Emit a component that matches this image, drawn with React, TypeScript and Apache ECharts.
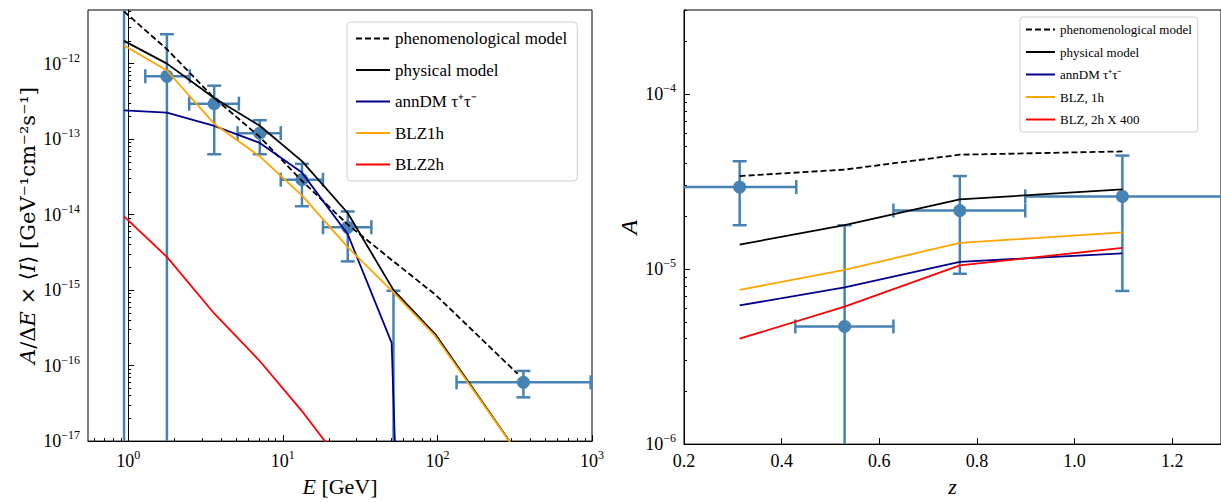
import { useEffect, useRef } from 'react'
import * as echarts from 'echarts'

// left panel: energy spectrum
const energy = [0.94, 1.78, 3.6, 7.1, 13.3, 26.3, 52, 97, 330]
const phenoE = [4.9e-12, 1.55e-12, 3.5e-13, 1.07e-13, 2.8e-14, 7.4e-15, 2.4e-15, 8.7e-16, 7.8e-17]
const physE = [2.0e-12, 1.0e-12, 3.5e-13, 1.5e-13, 5.1e-14, 1.05e-14, 1.0e-15, 2.6e-16, 7e-18]
const blz1E = [1.74e-12, 8.1e-13, 1.6e-13, 5.9e-14, 1.8e-14, 3.7e-15, 9.3e-16, 2.45e-16, 7e-18]
const annEnergy = [0.94, 1.78, 3.6, 7.1, 13.3, 26.3, 50.6, 55]
const annE = [2.4e-13, 2.24e-13, 1.5e-13, 8.9e-14, 3.6e-14, 5.5e-15, 2.0e-16, 1e-18]
const blz2Energy = [0.94, 1.78, 3.6, 7.1, 13.3, 26.3]
const blz2E = [9.5e-15, 2.75e-15, 4.9e-16, 1.15e-16, 2.5e-17, 4e-18]

const ptE = [0.94, 1.78, 3.6, 7.1, 13.3, 26.3, 52, 360]
const ptELow = [0.94, 1.29, 2.48, 5.1, 9.7, 18.2, 52, 133]
const ptEHigh = [0.94, 2.5, 5.2, 9.7, 18.2, 37.4, 52, 980]
const ptFlux = [1e-19, 6.8e-13, 2.95e-13, 1.2e-13, 2.9e-14, 6.8e-15, 1e-19, 6.0e-17]
const ptFluxLow = [1e-19, 1e-19, 6.3e-14, 6.3e-14, 1.29e-14, 2.4e-15, 1e-19, 3.8e-17]
const ptFluxHigh = [1e-11, 2.45e-12, 5.1e-13, 1.78e-13, 4.7e-14, 1.1e-14, 9.8e-16, 8.5e-17]

// right panel: anisotropy vs redshift
const redshift = [0.314, 0.529, 0.765, 1.098]
const phenoZ = [3.4e-5, 3.7e-5, 4.5e-5, 4.7e-5]
const physZ = [1.38e-5, 1.78e-5, 2.5e-5, 2.85e-5]
const annZ = [6.2e-6, 7.85e-6, 1.1e-5, 1.23e-5]
const blz1Z = [7.6e-6, 9.9e-6, 1.41e-5, 1.62e-5]
const blz2Z = [4.0e-6, 6.1e-6, 1.05e-5, 1.32e-5]

const ptZLow = [0.17, 0.428, 0.629, 0.899]
const ptZHigh = [0.43, 0.629, 0.899, 1.45]
const ptA = [2.94e-5, 4.7e-6, 2.16e-5, 2.6e-5]
const ptALow = [1.78e-5, 8e-7, 9.4e-6, 7.5e-6]
const ptAHigh = [4.13e-5, 1.78e-5, 3.4e-5, 4.45e-5]

const leftXTicks = [0, 1, 2, 3]
const leftYTicks = [-17, -16, -15, -14, -13, -12]
const rightXTicks = [0.2, 0.4, 0.6, 0.8, 1.0, 1.2]
const rightYTicks = [-6, -5, -4]

const lg = Math.log10
const FONT = 'Liberation Serif'
const BLUE = '#4682b4'

function minorLogs(from: number, to: number) {
  const out: number[] = []
  for (let n = from; n <= to; n++) for (let k = 2; k <= 9; k++) out.push(lg(k) + n)
  return out
}

const pow = (v: number) => `{b|10}{s|${v < 0 ? '−' + Math.abs(v) : v}}`
const rich = {
  b: { fontSize: 18, fontFamily: FONT, color: '#000' },
  s: { fontSize: 12, fontFamily: FONT, color: '#000', verticalAlign: 'bottom', padding: [0, 0, 12, 0] }
}

function pairs(xs: number[], ys: number[], fx: (v: number) => number) {
  return xs.map((x, i) => [fx(x), lg(ys[i])])
}

function errRows(x: number[], xl: number[], xh: number[], y: number[], yl: number[], yh: number[], fx: (v: number) => number) {
  return x.map((v, i) => [fx(v), lg(y[i]), fx(xl[i]), fx(xh[i]), lg(yl[i]), lg(yh[i])])
}

function renderErr(params: any, api: any) {
  const x = api.value(0), y = api.value(1)
  const xl = api.value(2), xh = api.value(3), yl = api.value(4), yh = api.value(5)
  const c = api.coord([x, y])
  const pl = api.coord([xl, y]), ph = api.coord([xh, y])
  const ql = api.coord([x, yl]), qh = api.coord([x, yh])
  const st = { stroke: BLUE, lineWidth: 2.5 }
  const cap = 7
  const kids: any[] = [
    { type: 'line', shape: { x1: ql[0], y1: ql[1], x2: qh[0], y2: qh[1] }, style: st },
    { type: 'line', shape: { x1: ql[0] - cap, y1: ql[1], x2: ql[0] + cap, y2: ql[1] }, style: st },
    { type: 'line', shape: { x1: qh[0] - cap, y1: qh[1], x2: qh[0] + cap, y2: qh[1] }, style: st }
  ]
  if (xh > xl) {
    kids.push(
      { type: 'line', shape: { x1: pl[0], y1: pl[1], x2: ph[0], y2: ph[1] }, style: st },
      { type: 'line', shape: { x1: pl[0], y1: pl[1] - cap, x2: pl[0], y2: pl[1] + cap }, style: st },
      { type: 'line', shape: { x1: ph[0], y1: ph[1] - cap, x2: ph[0], y2: ph[1] + cap }, style: st }
    )
  }
  kids.push({ type: 'circle', shape: { cx: c[0], cy: c[1], r: 6.5 }, style: { fill: BLUE } })
  return { type: 'group', children: kids }
}

function majorAxis(grid: number, pos: string, min: number, max: number, ticks: number[], fmt: (v: number) => string, extra: any = {}) {
  return {
    type: 'value', gridIndex: grid, position: pos, min, max,
    axisLine: { show: true, lineStyle: { color: '#000', width: 1 } },
    axisTick: { show: true, inside: true, length: 6, customValues: ticks, lineStyle: { color: '#000' } },
    axisLabel: { customValues: ticks, formatter: fmt, rich, color: '#000', fontFamily: FONT, fontSize: 18, margin: 8 },
    splitLine: { show: false },
    ...extra
  }
}

function minorAxis(grid: number, pos: string, min: number, max: number, ticks: number[]) {
  return {
    type: 'value', gridIndex: grid, position: pos, min, max,
    axisLine: { show: false },
    axisTick: { show: true, inside: true, length: 3, customValues: ticks, lineStyle: { color: '#000' } },
    axisLabel: { show: false },
    splitLine: { show: false }
  }
}

function nameStyle(size: number, family = FONT) {
  return {
    fontFamily: family, fontSize: size, color: '#000',
    rich: { i: { fontStyle: 'italic', fontFamily: family, fontSize: size, color: '#000' } }
  }
}

function line(name: string, data: number[][], color: string, xi: number, dashed = false) {
  return {
    name, type: 'line', data, xAxisIndex: xi, yAxisIndex: xi, showSymbol: false, symbol: 'none',
    lineStyle: { color, width: 1.8, type: dashed ? [6, 3] : 'solid' }, itemStyle: { color }
  }
}

export default function App() {
  const ref = useRef<HTMLDivElement>(null)
  useEffect(() => {
    if (!ref.current) return
    const chart = echarts.init(ref.current, null, { renderer: 'svg' })
    const id = (v: number) => v
    chart.setOption({
      animation: false,
      backgroundColor: '#fff',
      grid: [
        { left: 88, top: 10, width: 504, height: 444, show: true, borderColor: '#000', borderWidth: 1 },
        { left: 684, top: 10, width: 548, height: 444, show: true, borderColor: '#000', borderWidth: 1 }
      ],
      xAxis: [
        majorAxis(0, 'bottom', -0.26, 3, leftXTicks, pow, { name: '{i|E} [GeV]', nameLocation: 'middle', nameGap: 33, nameTextStyle: nameStyle(22) }),
        minorAxis(0, 'bottom', -0.26, 3, minorLogs(-1, 2).filter((v) => v > -0.26 && v < 3)),
        majorAxis(1, 'bottom', 0.2, 1.3, rightXTicks, (v: number) => v.toFixed(1), { name: '{i|z}', nameLocation: 'middle', nameGap: 30, nameTextStyle: nameStyle(22) })
      ],
      yAxis: [
        majorAxis(0, 'left', -17, -11.29, leftYTicks, pow, { name: '{i|A}/Δ{i|E} × ⟨{i|I}⟩ [GeV⁻¹cm⁻²s⁻¹]', nameLocation: 'middle', nameGap: 50, nameTextStyle: nameStyle(21, 'DejaVu Serif') }),
        minorAxis(0, 'left', -17, -11.29, minorLogs(-17, -12).filter((v) => v < -11.29)),
        majorAxis(1, 'left', -6, -3.52, rightYTicks, pow, { name: '{i|A}', nameLocation: 'middle', nameGap: 40, nameTextStyle: nameStyle(24) }),
        minorAxis(1, 'left', -6, -3.52, minorLogs(-6, -4).filter((v) => v < -3.52))
      ],
      legend: [
        {
          left: 347, top: 22, orient: 'vertical', itemWidth: 34, itemHeight: 14, itemGap: 14.5,
          padding: [8, 10, 8, 8], borderColor: '#d0d0d0', borderWidth: 1, borderRadius: 4,
          itemStyle: { opacity: 0 },
          textStyle: { fontFamily: FONT, fontSize: 17, color: '#000' },
          data: ['phenomenological model', 'physical model', 'annDM τ⁺τ⁻', 'BLZ1h', 'BLZ2h']
        },
        {
          left: 1020, top: 17, orient: 'vertical', itemWidth: 29, itemHeight: 10, itemGap: 9.5,
          padding: [6, 6, 6, 5], borderColor: '#d0d0d0', borderWidth: 1, borderRadius: 3,
          itemStyle: { opacity: 0 },
          textStyle: { fontFamily: FONT, fontSize: 13, color: '#000' },
          data: ['phenomenological model', 'physical model', 'annDM τ⁺τ⁻', 'BLZ, 1h', 'BLZ, 2h X 400']
        }
      ],
      series: [
        {
          type: 'custom', xAxisIndex: 0, yAxisIndex: 0, clip: true, renderItem: renderErr,
          data: errRows(ptE, ptELow, ptEHigh, ptFlux, ptFluxLow, ptFluxHigh, lg), z: 1
        },
        line('phenomenological model', pairs(energy, phenoE, lg), '#000000', 0, true),
        line('physical model', pairs(energy, physE, lg), '#000000', 0),
        line('annDM τ⁺τ⁻', pairs(annEnergy, annE, lg), '#00008b', 0),
        line('BLZ1h', pairs(energy, blz1E, lg), '#ffa500', 0),
        line('BLZ2h', pairs(blz2Energy, blz2E, lg), '#ff0000', 0),
        {
          type: 'custom', xAxisIndex: 2, yAxisIndex: 2, clip: true, renderItem: renderErr,
          data: errRows(redshift, ptZLow, ptZHigh, ptA, ptALow, ptAHigh, id), z: 1
        },
        line('phenomenological model', pairs(redshift, phenoZ, id), '#000000', 2, true),
        line('physical model', pairs(redshift, physZ, id), '#000000', 2),
        line('annDM τ⁺τ⁻', pairs(redshift, annZ, id), '#00008b', 2),
        line('BLZ, 1h', pairs(redshift, blz1Z, id), '#ffa500', 2),
        line('BLZ, 2h X 400', pairs(redshift, blz2Z, id), '#ff0000', 2)
      ]
    })
    return () => chart.dispose()
  }, [])
  return <div ref={ref} style={{ position: 'fixed', left: 0, top: 0, width: 1221, height: 502 }} />
}
